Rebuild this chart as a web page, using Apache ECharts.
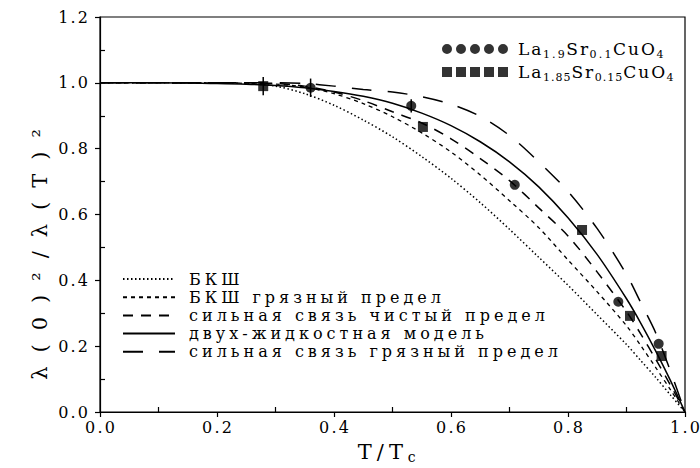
<!DOCTYPE html>
<html><head><meta charset="utf-8">
<script src="https://cdn.jsdelivr.net/npm/echarts@6/dist/echarts.min.js"></script>
<style>html,body{margin:0;padding:0;background:#fff}#c{width:700px;height:468px}</style>
</head><body><div id="c"></div>
<script>
// ---- data ----
const tCurve = [0,0.1,0.2,0.25,0.3,0.35,0.4,0.45,0.5,0.55,0.6,0.65,0.7,0.75,0.8,0.85,0.9,0.925,0.95,0.975,1.0];
const yBCS = [1,1,1,0.998,0.99,0.967,0.932,0.887,0.836,0.776,0.71,0.636,0.555,0.47,0.385,0.295,0.205,0.155,0.105,0.052,0];
const yBCSDirty = [1,1,1,0.999,0.996,0.987,0.967,0.937,0.897,0.848,0.79,0.72,0.642,0.56,0.462,0.365,0.262,0.2,0.135,0.068,0];
const yStrongClean = [1,1,1,1,0.998,0.99,0.972,0.946,0.912,0.878,0.83,0.77,0.703,0.62,0.535,0.425,0.305,0.235,0.16,0.082,0];
const yTwoFluid = [1,1,0.998,0.996,0.992,0.985,0.974,0.959,0.938,0.908,0.87,0.821,0.76,0.684,0.59,0.478,0.344,0.268,0.185,0.096,0];
const yStrongDirty = [1,1,1,1,1,0.998,0.99,0.98,0.972,0.958,0.935,0.898,0.84,0.76,0.67,0.557,0.418,0.33,0.24,0.125,0];

const circT = [0.36,0.532,0.709,0.886,0.955];
const circY = [0.985,0.93,0.69,0.335,0.207];
const circErr = [0.028,0.02,0,0,0];
const sqT = [0.279,0.552,0.824,0.906,0.96];
const sqY = [0.99,0.866,0.553,0.292,0.17];
const sqErr = [0.028,0,0,0,0];

const lineNames = ['БКШ','БКШ грязный предел','сильная связь чистый предел','двух-жидкостная модель','сильная связь грязный предел'];
const pointNames = ['La1.9Sr0.1CuO4','La1.85Sr0.15CuO4'];
const xMinorTicks = [0.1,0.3,0.5,0.7,0.9];
const yMinorTicks = [0.1,0.3,0.5,0.7,0.9,1.1];
const yName = 'λ(0)²/λ(T)²';
const xName = 'T/T{s|c}';

// ---- chart ----
const FF = 'DejaVu Serif';
const K = '#000';
const chart = echarts.init(document.getElementById('c'), null, {renderer: 'svg'});

const curves = [yBCS, yBCSDirty, yStrongClean, yTwoFluid, yStrongDirty];
const dashes = [[1.5,2.5],[4,4],[10,8],'solid',[20,16]];
const widths = [1.5,1.3,1.5,1.5,1.5];

const lineSeries = curves.map((ys, k) => ({
  type: 'line', name: lineNames[k], data: tCurve.map((t,i)=>[t, ys[i]]),
  smooth: 0.3, symbol: 'none', showSymbol: false, silent: true,
  lineStyle: {color: K, width: widths[k], type: dashes[k]}, itemStyle: {color: K}, z: 2
}));

const errData = [];
circT.forEach((t,i)=>{ if (circErr[i]>0) errData.push([t, circY[i], circErr[i]]); });
sqT.forEach((t,i)=>{ if (sqErr[i]>0) errData.push([t, sqY[i], sqErr[i]]); });

const circIcon = 'path://' + [0,14,28,42,56].map(x=>`M${x},5a5,5 0 1,0 10,0a5,5 0 1,0 -10,0Z`).join(' ');
const sqIcon = 'path://' + [0,14,28,42,56].map(x=>`M${x},0h10v10h-10Z`).join(' ');

const option = {
  animation: false,
  backgroundColor: '#fff',
  grid: {left: 100, right: 15, top: 17, bottom: 56, show: true, borderColor: K, borderWidth: 1.2, backgroundColor: 'transparent', containLabel: false, outerBoundsMode: 'none'},
  xAxis: [
    {type: 'value', min: 0, max: 1, interval: 0.2, position: 'bottom',
     axisLine: {show: true, lineStyle: {color: K, width: 1.2}},
     axisTick: {show: true, inside: false, length: 5, lineStyle: {color: K, width: 1.2}},
     axisLabel: {color: K, fontFamily: FF, fontSize: 16, margin: 7, formatter: v => v.toFixed(1)},
     splitLine: {show: false},
     name: xName, nameLocation: 'middle', nameGap: 27,
     nameTextStyle: {color: K, fontFamily: FF, fontSize: 21, lineHeight: 24,
       rich: {s: {color: K, fontFamily: FF, fontSize: 14, lineHeight: 10, verticalAlign: 'bottom'}}}},
    {type: 'value', min: 0, max: 1, interval: 0.1, position: 'bottom',
     axisLine: {show: false}, axisLabel: {show: false}, splitLine: {show: false},
     axisTick: {show: true, inside: true, length: 5, customValues: xMinorTicks, lineStyle: {color: K, width: 1.2}}}
  ],
  yAxis: [
    {type: 'value', min: 0, max: 1.2, interval: 0.2, position: 'left',
     axisLine: {show: true, lineStyle: {color: K, width: 1.2}},
     axisTick: {show: true, inside: false, length: 5, lineStyle: {color: K, width: 1.2}},
     axisLabel: {color: K, fontFamily: FF, fontSize: 16, margin: 12, formatter: v => v.toFixed(1)},
     splitLine: {show: false},
     name: yName, nameLocation: 'middle', nameGap: 50,
     nameTextStyle: {color: K, fontFamily: FF, fontSize: 21}},
    {type: 'value', min: 0, max: 1.2, interval: 0.1, position: 'left',
     axisLine: {show: false}, axisLabel: {show: false}, splitLine: {show: false},
     axisTick: {show: true, inside: true, length: 5, customValues: yMinorTicks, lineStyle: {color: K, width: 1.2}}}
  ],
  legend: [
    {data: lineNames, orient: 'vertical', left: 122, top: 271, padding: 0, itemWidth: 52, itemHeight: 14, itemGap: 2.2,
     selectedMode: false,
     itemStyle: {color: 'transparent', borderColor: 'transparent', borderWidth: 0},
     textStyle: {color: K, fontFamily: FF, fontSize: 16, lineHeight: 16, padding: [0,0,0,9]}},
    {data: [{name: pointNames[0], icon: circIcon}, {name: pointNames[1], icon: sqIcon}],
     orient: 'vertical', left: 442, top: 38, padding: 0, itemWidth: 66, itemHeight: 10, itemGap: 1, selectedMode: false,
     formatter: n => n.replace(/(\d+(?:\.\d+)?)/g, '{s|$1}'),
     textStyle: {color: K, fontFamily: FF, fontSize: 17, lineHeight: 22, padding: [0,0,0,5],
       rich: {s: {color: K, fontFamily: FF, fontSize: 11, lineHeight: 8, verticalAlign: 'bottom'}}}}
  ],
  series: [
    ...lineSeries,
    {type: 'custom', silent: true, z: 3, data: errData,
     renderItem: (params, api) => {
       const x = api.value(0), y = api.value(1), e = api.value(2);
       const p1 = api.coord([x, y - e]), p2 = api.coord([x, y + e]);
       return {type: 'line', shape: {x1: p1[0], y1: p1[1], x2: p2[0], y2: p2[1]}, style: {stroke: K, lineWidth: 1.5}};
     }},
    {type: 'scatter', name: pointNames[0], data: circT.map((t,i)=>[t, circY[i]]), symbol: 'circle', symbolSize: 10,
     itemStyle: {color: K}, silent: true, z: 4},
    {type: 'scatter', name: pointNames[1], data: sqT.map((t,i)=>[t, sqY[i]]), symbol: 'rect', symbolSize: 10,
     itemStyle: {color: K}, silent: true, z: 4}
  ]
};
chart.setOption(option);

// ---- typographic letter spacing to match the wide typewriter-like face ----
function spacingFor(txt) {
  if (lineNames.includes(txt)) return 4;
  if (/^\d\.\d$/.test(txt)) return 2.2;
  if (txt === yName) return 14;
  if (txt === 'T/T') return 5;
  if (/^(La|Sr|CuO)$/.test(txt)) return 2;
  if (/^[\d.]+$/.test(txt)) return 1;
  return 0;
}
function applySpacing() {
  const svg = document.querySelector('#c svg');
  if (!svg) return;
  const texts = Array.from(svg.querySelectorAll('text')).filter(t => !t.dataset.sp && t.textContent.length);
  const info = [];
  texts.forEach(el => {
    try {
      const n = el.getNumberOfChars();
      const m = el.getCTM();
      const sp = el.getStartPositionOfChar(0), ep = el.getEndPositionOfChar(n - 1);
      const ts = p => ({x: m.a*p.x + m.c*p.y + m.e, y: m.b*p.x + m.d*p.y + m.f});
      info.push({el, n, s: spacingFor(el.textContent), start: ts(sp), end: ts(ep),
                 anchor: el.getAttribute('text-anchor') || getComputedStyle(el).textAnchor || 'start'});
    } catch (e) {}
  });
  const prev = new Map(), next = new Map();
  info.forEach(a => {
    const vx = a.end.x - a.start.x, vy = a.end.y - a.start.y, L = Math.hypot(vx, vy);
    if (!L) return;
    const ux = vx / L, uy = vy / L;
    info.forEach(b => {
      if (a === b) return;
      const dx = b.start.x - a.end.x, dy = b.start.y - a.end.y;
      const along = dx * ux + dy * uy, perp = Math.abs(dx * uy - dy * ux);
      if (Math.abs(along) < 2 && perp < 10 && !prev.has(b)) { prev.set(b, a); next.set(a, b); }
    });
  });
  const adv = o => (o.n - 1) * o.s + Math.min(o.s, 1.5);
  info.forEach(o => {
    let dx = 0;
    if (!prev.has(o) && !next.has(o)) {
      if (o.anchor === 'middle') dx = o.s / 2;
      else if (o.anchor === 'end') dx = o.s;
      if (o.el.textContent === yName) dx -= 40;
    } else {
      let p = prev.get(o);
      while (p) { dx += adv(p); p = prev.get(p); }
      let h = o; while (prev.has(h)) h = prev.get(h);
      if (h.el.textContent === 'T/T') {
        let tot = 0, q = h; while (q) { tot += adv(q); q = next.get(q); }
        dx -= tot / 2;
        if (o !== h) dx -= 4;
      }
    }
    if (o.s) o.el.style.letterSpacing = o.s + 'px';
    if (dx) o.el.setAttribute('dx', dx);
    o.el.dataset.sp = '1';
  });
}
applySpacing();
setTimeout(applySpacing, 30);
</script>
</body></html>
